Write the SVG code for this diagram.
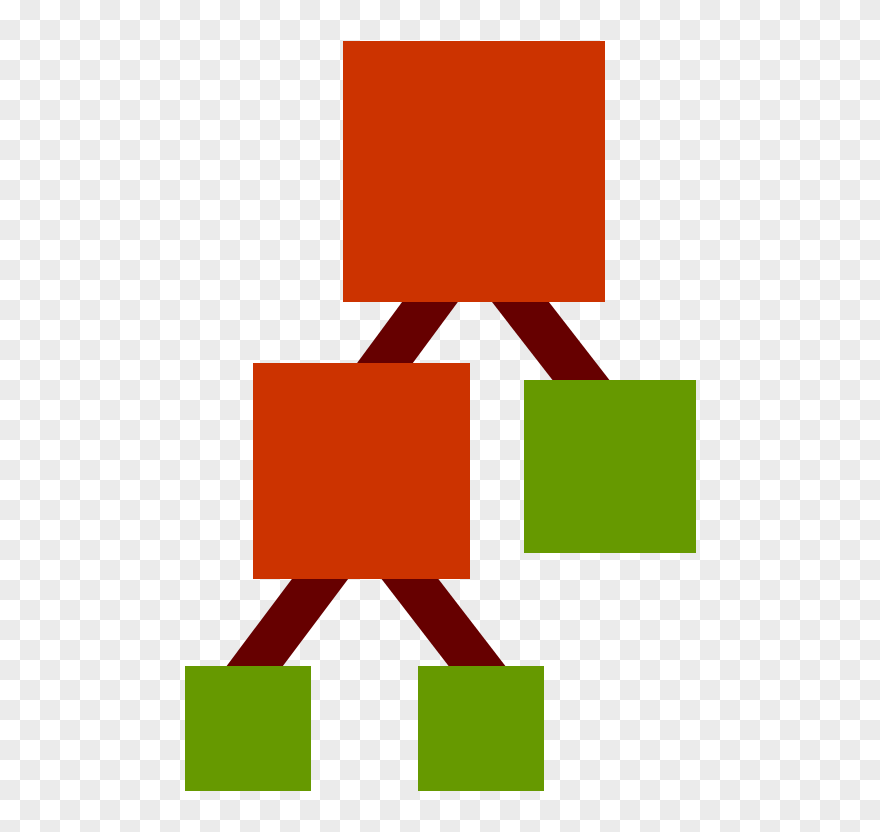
<svg xmlns="http://www.w3.org/2000/svg" width="880" height="832" viewBox="0 0 880 832">
<style>
.red{fill:#cc3300}
.green{fill:#669900}
.link{stroke:#660000;stroke-width:45;stroke-linecap:butt;fill:none}
</style>
<defs>
<pattern id="checker" x="0" y="0" width="40" height="40" patternUnits="userSpaceOnUse">
<rect width="40" height="40" fill="#ffffff"/>
<rect x="20" y="0" width="20" height="20" fill="#ebebeb"/>
<rect x="0" y="20" width="20" height="20" fill="#ebebeb"/>
</pattern>
</defs>
<rect width="880" height="832" fill="url(#checker)"/>
<g id="connectors">
<line class="link" x1="446.2" y1="280" x2="368.7" y2="385"/>
<line class="link" x1="503.4" y1="280" x2="596.5" y2="400"/>
<line class="link" x1="338" y1="555" x2="236.75" y2="690"/>
<line class="link" x1="391.5" y1="555" x2="495.5" y2="690"/>
</g>
<g id="root"><rect class="red" x="343" y="41" width="262" height="261"/></g>
<g id="inner"><rect class="red" x="253" y="363" width="217" height="216"/></g>
<g id="leaf-right"><rect class="green" x="524" y="380" width="172" height="173"/></g>
<g id="leaf-bottom-left"><rect class="green" x="185" y="666" width="126" height="125"/></g>
<g id="leaf-bottom-right"><rect class="green" x="418" y="666" width="126" height="125"/></g>
</svg>
